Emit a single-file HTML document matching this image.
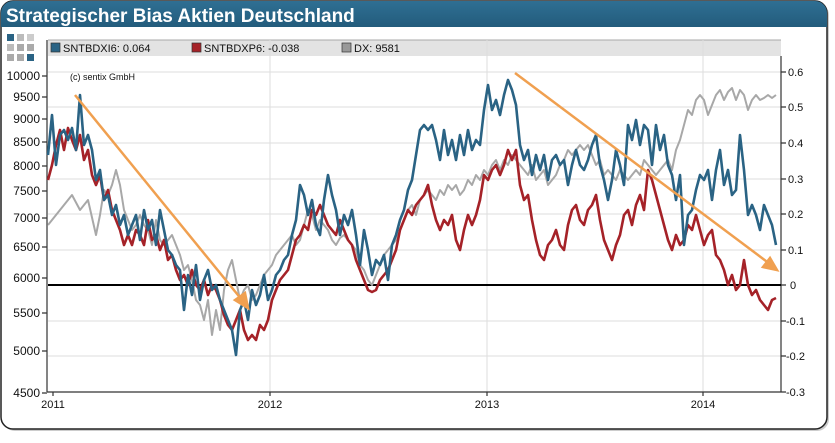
<!DOCTYPE html>
<html><head><meta charset="utf-8"><style>
body{margin:0;background:#fff;width:835px;height:438px;overflow:hidden;font-family:"Liberation Sans",sans-serif}
</style></head><body>
<svg width="835" height="438" viewBox="0 0 835 438" xmlns="http://www.w3.org/2000/svg" font-family="Liberation Sans, sans-serif">
<defs><linearGradient id="tb" x1="0" y1="0" x2="0" y2="1"><stop offset="0" stop-color="#2f6f93"/><stop offset="1" stop-color="#235c7c"/></linearGradient></defs>
<rect x="3" y="3" width="826" height="428" rx="12" fill="#9a9a9a" opacity="0.5"/>
<rect x="1" y="1" width="826" height="428" rx="12" fill="#fff" stroke="#222" stroke-width="1.5"/>
<path d="M1,13 a12,12 0 0 1 12,-12 h802 a12,12 0 0 1 12,12 v14 h-826z" fill="url(#tb)"/>
<text x="6" y="22" font-size="19" font-weight="bold" fill="#fff">Strategischer Bias Aktien Deutschland</text>
<g><rect x="7" y="34" width="7" height="7" fill="#2a6384"/><rect x="17" y="34" width="7" height="7" fill="#bbb"/><rect x="27" y="34" width="7" height="7" fill="#ccc"/>
<rect x="7" y="44" width="7" height="7" fill="#bbb"/><rect x="17" y="44" width="7" height="7" fill="#aaa"/><rect x="27" y="44" width="7" height="7" fill="#aaa"/>
<rect x="7" y="54" width="7" height="7" fill="#aaa"/><rect x="17" y="54" width="7" height="7" fill="#aaa"/><rect x="27" y="54" width="7" height="7" fill="#2a6384"/></g>
<rect x="48" y="40" width="733" height="16" fill="#e3e3e3"/>
<line x1="48" y1="40" x2="781" y2="40" stroke="#aaa"/>
<g stroke="#ddd" stroke-width="1">
<line x1="270" y1="40" x2="270" y2="392"/><line x1="487" y1="40" x2="487" y2="392"/><line x1="703" y1="40" x2="703" y2="392"/>
<line x1="48" y1="72" x2="781" y2="72"/><line x1="48" y1="107" x2="781" y2="107"/><line x1="48" y1="143" x2="781" y2="143"/><line x1="48" y1="179" x2="781" y2="179"/><line x1="48" y1="214" x2="781" y2="214"/><line x1="48" y1="250" x2="781" y2="250"/><line x1="48" y1="321" x2="781" y2="321"/><line x1="48" y1="356" x2="781" y2="356"/>
</g>
<g font-size="11" fill="#111">
<rect x="51" y="43" width="9" height="9" fill="#2a6384" stroke="#333" stroke-width=".7"/><text x="63" y="52">SNTBDXI6: 0.064</text>
<rect x="192" y="43" width="9" height="9" fill="#a52228" stroke="#333" stroke-width=".7"/><text x="204" y="52">SNTBDXP6: -0.038</text>
<rect x="342" y="43" width="9" height="9" fill="#999" stroke="#333" stroke-width=".7"/><text x="354" y="52">DX: 9581</text>
<text x="70" y="80" font-size="9">(c) sentix GmbH</text>
</g>
<g stroke="#333" stroke-width="1.2" fill="none">
<line x1="47" y1="40" x2="47" y2="392"/><line x1="47" y1="392" x2="781" y2="392"/><line x1="781" y1="56" x2="781" y2="392"/>
<path d="M42,76h5M42,97h5M42,119h5M42,142h5M42,166h5M42,191h5M42,218h5M42,247h5M42,278h5M42,313h5M42,351h5M42,393h5M781,72h5M781,107h5M781,143h5M781,179h5M781,214h5M781,250h5M781,285h5M781,321h5M781,356h5M781,392h5M53,392v4M270,392v4M487,392v4M703,392v4"/>
</g>
<g font-size="12" fill="#111" text-anchor="end">
<text x="40" y="80">10000</text><text x="40" y="101">9500</text><text x="40" y="123">9000</text><text x="40" y="146">8500</text><text x="40" y="170">8000</text><text x="40" y="195">7500</text><text x="40" y="222">7000</text>
<text x="40" y="251">6500</text><text x="40" y="282">6000</text><text x="40" y="317">5500</text><text x="40" y="355">5000</text><text x="40" y="397">4500</text>
</g>
<g font-size="11" fill="#111">
<text x="788" y="76">0.6</text><text x="788" y="111">0.5</text><text x="788" y="147">0.4</text><text x="788" y="183">0.3</text><text x="788" y="218">0.2</text><text x="788" y="254">0.1</text><text x="790" y="289">0</text><text x="786" y="325">-0.1</text><text x="786" y="360">-0.2</text><text x="786" y="396">-0.3</text>
</g>
<g font-size="11" fill="#111" text-anchor="middle"><text x="53" y="408">2011</text><text x="270" y="408">2012</text><text x="487" y="408">2013</text><text x="703" y="408">2014</text></g>
<line x1="48" y1="285" x2="781" y2="285" stroke="#000" stroke-width="2"/>
<g fill="none" stroke-width="2.6" stroke-linejoin="round">
<polyline stroke="#a8a8a8" stroke-width="2" points="48,225 56,215 64,205 72,195 80,210 88,200 96,235 100,215 104,190 108,195 112,185 116,170 120,185 124,210 128,220 132,230 136,225 140,215 144,225 148,230 152,245 156,220 160,240 164,245 168,240 172,235 176,245 180,255 184,270 188,265 192,280 196,300 200,305 204,320 208,300 212,335 216,310 220,330 224,290 228,270 232,260 236,280 240,300 244,290 248,285 252,300 256,295 260,285 264,275 268,270 272,265 276,255 280,250 284,245 288,240 292,235 296,245 300,240 304,225 308,210 312,215 316,230 320,220 324,225 328,230 332,240 336,245 340,238 344,235 348,240 352,245 356,250 360,265 364,270 368,280 372,285 376,275 380,265 384,255 388,250 392,245 396,240 400,230 404,220 408,210 412,205 416,215 420,200 424,195 428,190 432,195 436,200 440,190 444,195 448,185 452,190 456,185 460,195 464,190 468,180 472,185 476,175 480,180 484,170 488,175 492,165 496,160 500,170 504,160 508,165 512,155 516,160 520,165 524,170 528,175 532,165 536,180 540,175 544,170 548,185 552,180 556,175 560,165 564,160 568,150 572,155 576,150 580,145 584,150 588,145 592,155 596,165 600,160 604,175 608,170 612,175 616,180 620,170 624,175 628,180 632,175 636,170 640,175 644,160 648,165 652,170 656,175 660,170 664,165 668,160 672,170 676,150 680,140 684,125 688,110 692,115 696,100 700,95 704,100 708,115 712,105 716,95 720,90 724,100 728,92 732,88 736,100 740,90 744,95 748,110 752,100 756,95 760,100 764,98 768,95 772,98 776,95"/>
<polyline stroke="#a52228" points="48,180 52,165 56,145 60,130 64,150 68,128 72,140 76,150 80,135 84,160 88,150 92,175 96,185 100,175 104,200 108,190 112,210 116,220 120,230 124,245 128,235 132,245 136,230 140,235 144,245 148,220 152,240 156,235 160,250 164,240 168,260 172,255 176,270 180,280 184,275 188,285 192,270 196,285 200,290 204,280 208,295 212,285 216,290 220,300 224,315 228,325 232,330 236,320 240,310 244,330 248,340 252,335 256,340 260,325 264,330 268,320 272,300 276,290 280,280 284,275 288,270 292,255 296,240 300,235 304,225 308,230 312,210 316,215 320,205 324,215 328,225 332,230 336,235 340,220 344,230 348,240 352,245 356,260 360,270 364,280 368,290 372,292 376,290 380,280 384,275 388,270 392,260 396,250 400,230 404,220 408,210 412,215 416,205 420,200 424,195 428,185 432,205 436,220 440,230 444,220 448,225 452,215 456,240 460,250 464,230 468,215 472,225 476,215 480,200 484,175 488,180 492,170 496,165 500,175 504,165 508,150 512,160 516,150 520,185 524,200 528,195 532,220 536,240 540,255 544,260 548,245 552,240 556,230 560,245 564,250 568,225 572,210 576,205 580,220 584,225 588,210 592,205 596,195 600,220 604,240 608,250 612,260 616,245 620,235 624,215 628,210 632,225 636,205 640,195 644,210 648,170 652,180 656,195 660,210 664,225 668,240 672,250 676,235 680,245 684,240 688,225 692,230 696,215 700,230 704,245 708,235 712,230 716,255 720,260 724,270 728,285 732,275 736,290 740,285 744,260 748,285 752,295 756,290 760,300 764,305 768,310 772,300 776,298"/>
<polyline stroke="#2a6384" points="48,155 52,115 56,165 60,135 64,130 68,140 72,128 76,150 80,95 84,145 88,135 92,150 96,180 100,170 104,200 108,195 112,215 116,205 120,225 124,215 128,235 132,225 136,215 140,240 144,210 148,230 152,220 156,245 160,210 164,230 168,250 172,255 176,265 180,270 184,310 188,275 192,295 196,265 200,300 204,280 208,270 212,290 216,285 220,300 224,310 228,320 232,330 236,355 240,310 244,300 248,320 252,290 256,305 260,295 264,275 268,300 272,290 276,275 280,270 284,260 288,255 292,235 296,220 300,185 304,195 308,215 312,200 316,225 320,235 324,200 328,175 332,195 336,210 340,235 344,215 348,225 352,210 356,235 360,265 364,230 368,250 372,275 376,260 380,265 384,255 388,280 392,245 396,235 400,220 404,210 408,190 412,180 416,155 420,130 424,125 428,130 432,125 436,140 440,160 444,130 448,155 452,140 456,160 460,135 464,155 468,130 472,150 476,140 480,145 484,110 488,85 492,110 496,100 500,115 504,95 508,80 512,90 516,105 520,145 524,160 528,150 532,175 536,155 540,170 544,155 548,180 552,160 556,155 560,165 564,160 568,185 572,165 576,150 580,165 584,170 588,160 592,145 596,135 600,165 604,180 608,200 612,180 616,150 620,165 624,185 628,125 632,140 636,120 640,145 644,125 648,130 652,165 656,125 660,150 664,135 668,165 672,175 676,200 680,175 684,245 688,215 692,210 696,190 700,175 704,180 708,170 712,200 716,170 720,150 724,185 728,170 732,195 736,190 740,135 744,170 748,215 752,205 756,215 760,230 764,205 768,215 772,225 776,245"/>
</g>
<g stroke="#f0a050" stroke-width="2.5" fill="#f0a050">
<line x1="75" y1="95" x2="242" y2="300"/><polygon points="248,308 235,300 245,293"/>
<line x1="515" y1="73" x2="770" y2="264"/><polygon points="777,270 763,267 770,258"/>
</g>
</svg>
</body></html>
